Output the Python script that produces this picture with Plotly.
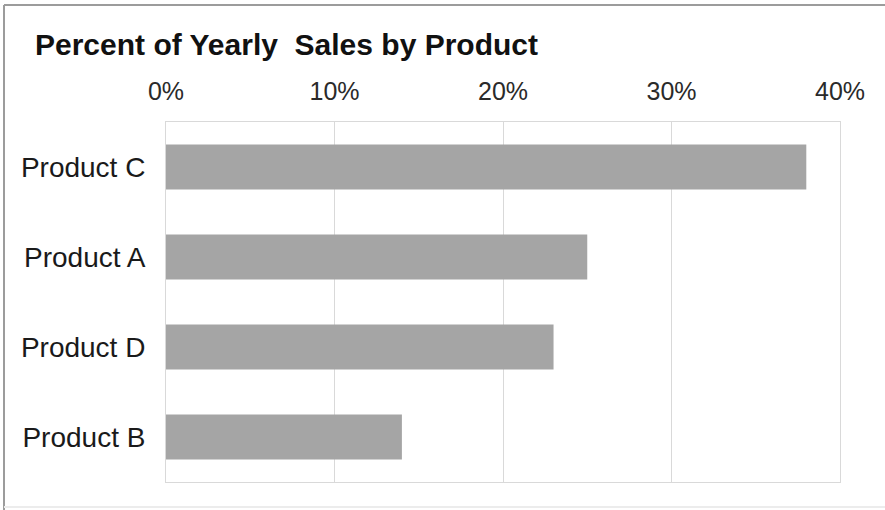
import plotly.graph_objects as go

# Share of yearly sales per product (percent)
products = ["Product C", "Product A", "Product D", "Product B"]
share_pct = [38, 25, 23, 14]
tick_vals = [0, 10, 20, 30, 40]
tick_text = ["0%", "10%", "20%", "30%", "40%"]

W, H = 885, 510
ML, MR, MT, MB = 166, 45, 122, 28
PW, PH = W - ML - MR, H - MT - MB

def px_x(p):
    return (p - ML) / PW

def px_y(p):
    return 1 - (p - MT) / PH

fig = go.Figure(
    go.Bar(
        x=share_pct,
        y=products,
        orientation="h",
        width=0.5,
        marker=dict(color="#a5a5a5", line=dict(width=0)),
        hoverinfo="x+y",
    )
)

font_family = "Arial, 'Liberation Sans', sans-serif"

fig.update_layout(
    width=W,
    height=H,
    margin=dict(l=ML, r=MR, t=MT, b=MB, pad=0),
    paper_bgcolor="white",
    plot_bgcolor="white",
    showlegend=False,
    title=dict(
        text="<b>Percent of Yearly  Sales by Product</b>",
        font=dict(family=font_family, size=30, color="#111111"),
        xref="container",
        x=35 / W,
        xanchor="left",
        yref="container",
        y=1 - 44 / H,
        yanchor="middle",
    ),
    xaxis=dict(
        side="top",
        range=[0, 40],
        tickvals=tick_vals,
        ticktext=tick_text,
        showgrid=True,
        gridcolor="#d9d9d9",
        gridwidth=1,
        zeroline=False,
        showline=True,
        linecolor="#d9d9d9",
        linewidth=1,
        mirror=True,
        ticks="",
        ticklabelstandoff=11,
        tickfont=dict(family=font_family, size=25, color="#2a2a2a"),
        fixedrange=True,
    ),
    yaxis=dict(
        categoryorder="array",
        categoryarray=products[::-1],
        range=[-0.5, 3.5],
        showgrid=False,
        zeroline=False,
        showline=True,
        linecolor="#d9d9d9",
        linewidth=1,
        mirror=True,
        ticks="",
        ticklabelstandoff=14,
        tickfont=dict(family=font_family, size=28, color="#1a1a1a"),
        fixedrange=True,
    ),
    shapes=[
        # outer frame: top and left edges
        dict(type="line", xref="paper", yref="paper",
             x0=px_x(4), x1=px_x(W + 5), y0=px_y(5), y1=px_y(5),
             line=dict(color="#9c9c9c", width=2)),
        dict(type="line", xref="paper", yref="paper",
             x0=px_x(4), x1=px_x(4), y0=px_y(5), y1=px_y(H + 5),
             line=dict(color="#9c9c9c", width=2)),
        dict(type="line", xref="paper", yref="paper",
             x0=px_x(4), x1=px_x(W + 5), y0=px_y(507), y1=px_y(507),
             line=dict(color="#ececec", width=2)),
    ],
)

fig.write_html("out.html")
